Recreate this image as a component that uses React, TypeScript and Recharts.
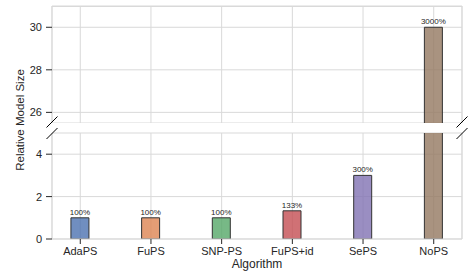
import React from 'react'
import { Bar, BarChart, CartesianGrid, Cell, LabelList, XAxis, YAxis } from 'recharts'

const CATEGORIES = ['AdaPS', 'FuPS', 'SNP-PS', 'FuPS+id', 'SePS', 'NoPS']
const SIZES = [1, 1, 1, 1.33, 3, 30]
const PCT_LABELS = ['100%', '100%', '100%', '133%', '300%', '3000%']
const X_TICKS = [0, 1, 2, 3, 4, 5]
const TOP_TICKS = [26, 28, 30]
const BOTTOM_TICKS = [0, 2, 4]
const TOP_DOMAIN = [25.5, 31]
const BOTTOM_DOMAIN = [0, 5]

const COLORS = ['#4c72b0', '#dd8452', '#55a868', '#c44e52', '#8172b3', '#937860']
const FONT = '"Liberation Sans", Arial, sans-serif'
const GRID = '#d9d9d9'
const INK = '#262626'

const rows = CATEGORIES.map((name, i) => ({
  pos: X_TICKS[i],
  name,
  size: SIZES[i],
  span: [0, SIZES[i]],
  topLabel: SIZES[i] > TOP_DOMAIN[0] ? PCT_LABELS[i] : null,
  bottomLabel: SIZES[i] <= BOTTOM_DOMAIN[1] ? PCT_LABELS[i] : null,
}))

const tickStyle = { fill: INK, fontSize: 11, fontFamily: FONT }
const labelStyle = { fill: INK, fontSize: 8, fontFamily: FONT }

const App = () => {
  const margin = { top: 6, right: 8, left: 0, bottom: 0 }
  return (
    <div style={{ position: 'absolute', left: 0, top: 0, width: 470, height: 272, background: '#fff' }}>
      {/* upper panel */}
      <div style={{ position: 'absolute', left: 0, top: 0 }}>
        <BarChart width={470} height={123} data={rows} margin={margin}>
          <CartesianGrid stroke={GRID} />
          <XAxis dataKey="pos" type="number" domain={[-0.4, 5.4]} ticks={X_TICKS} hide />
          <YAxis
            width={52}
            domain={TOP_DOMAIN}
            ticks={TOP_TICKS}
            allowDataOverflow
            tick={tickStyle}
            tickSize={6}
            tickMargin={4}
            axisLine={{ stroke: GRID }}
            tickLine={{ stroke: INK }}
          />
          <Bar dataKey="span" barSize={18} stroke="#333" strokeWidth={1} fillOpacity={0.8} isAnimationActive={false}>
            {rows.map((r, i) => <Cell key={r.name} fill={COLORS[i]} />)}
            <LabelList dataKey="topLabel" position="top" offset={3} style={labelStyle} />
          </Bar>
        </BarChart>
      </div>
      {/* lower panel */}
      <div style={{ position: 'absolute', left: 0, top: 127 }}>
        <BarChart width={470} height={145} data={rows} margin={margin}>
          <CartesianGrid stroke={GRID} />
          <XAxis
            dataKey="pos"
            type="number"
            domain={[-0.4, 5.4]}
            ticks={X_TICKS}
            interval={0}
            height={33}
            tickFormatter={(v: number) => CATEGORIES[v]}
            tick={tickStyle}
            tickSize={5}
            tickMargin={3}
            axisLine={{ stroke: GRID }}
            tickLine={{ stroke: INK }}
            label={{ value: 'Algorithm', position: 'insideBottom', offset: 4, style: { fill: INK, fontSize: 12, fontFamily: FONT } }}
          />
          <YAxis
            width={52}
            domain={BOTTOM_DOMAIN}
            ticks={BOTTOM_TICKS}
            allowDataOverflow
            tick={tickStyle}
            tickSize={6}
            tickMargin={4}
            axisLine={{ stroke: GRID }}
            tickLine={{ stroke: INK }}
          />
          <Bar dataKey="size" barSize={18} stroke="#333" strokeWidth={1} fillOpacity={0.8} isAnimationActive={false}>
            {rows.map((r, i) => <Cell key={r.name} fill={COLORS[i]} />)}
            <LabelList dataKey="bottomLabel" position="top" offset={3} style={labelStyle} />
          </Bar>
        </BarChart>
      </div>
      {/* spines, break marks and y label */}
      <svg width={470} height={272} style={{ position: 'absolute', left: 0, top: 0, pointerEvents: 'none' }}>
        <line x1={52} y1={6.5} x2={462} y2={6.5} stroke={GRID} />
        <line x1={462} y1={6} x2={462} y2={123} stroke={GRID} />
        <line x1={462} y1={133} x2={462} y2={239} stroke={GRID} />
        {[52, 462].map(cx =>
          [122, 133.5].map(cy => (
            <line key={cx + '-' + cy} x1={cx - 5.5} y1={cy + 5.5} x2={cx + 5.5} y2={cy - 5.5} stroke="#000" strokeWidth={1} />
          ))
        )}
        <text
          x={23.5}
          y={120}
          transform="rotate(-90 23.5 120)"
          textAnchor="middle"
          fill={INK}
          fontSize={11.5}
          fontFamily={FONT}
        >
          Relative Model Size
        </text>
      </svg>
    </div>
  )
}

export default App
